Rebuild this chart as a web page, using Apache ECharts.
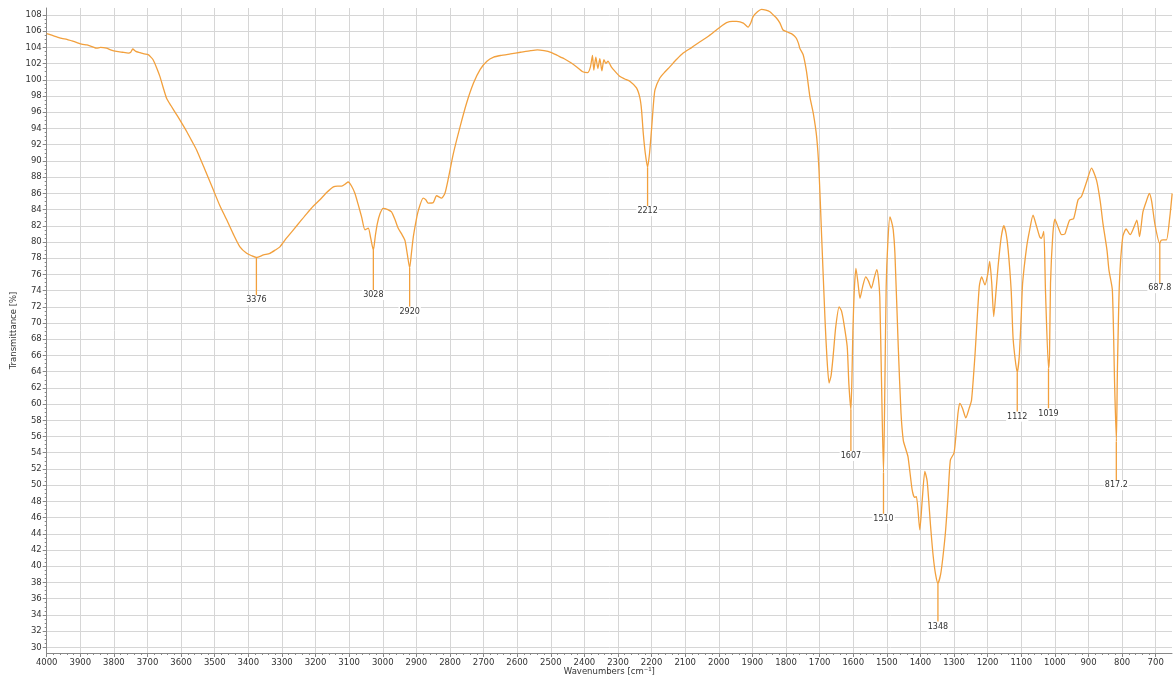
<!DOCTYPE html>
<html>
<head>
<meta charset="utf-8">
<script src="https://cdn.jsdelivr.net/npm/echarts@6/dist/echarts.min.js"></script>
<style>html,body{margin:0;padding:0;background:#fff;}#chart{width:1175px;height:682px;}</style>
</head>
<body>
<div id="chart"></div>
<script>
// Spectrum: wavenumber (cm-1) and transmittance (%)
const wavenumbers = [4000,3985,3970,3955,3940,3925,3910,3896,3880,3865,3851,3840,3822,3810,3792,3775,3757,3750,3744,3735,3722,3710,3698,3690,3683,3673,3663,3653,3643,3630,3615,3603,3583,3570,3554,3530,3504,3485,3464,3445,3425,3405,3390,3376,3355,3336,3320,3306,3286,3266,3246,3226,3207,3187,3167,3147,3135,3122,3110,3103,3093,3083,3073,3063,3053,3043,3036,3028,3022,3016,3008,2999,2985,2974,2964,2954,2944,2934,2927,2920,2915,2909,2900,2894,2880,2872,2865,2850,2840,2825,2815,2805,2790,2770,2750,2730,2710,2690,2670,2650,2620,2590,2560,2540,2520,2500,2480,2460,2440,2420,2405,2390,2382,2376,2372,2366,2360,2354,2348,2342,2336,2330,2320,2310,2294,2280,2264,2245,2235,2230,2225,2219,2212,2206,2200,2195,2190,2176,2160,2146,2126,2106,2080,2056,2030,2007,1990,1977,1960,1947,1927,1913,1905,1898,1885,1873,1860,1848,1838,1828,1818,1809,1796,1784,1775,1769,1763,1759,1749,1739,1729,1719,1709,1702,1694,1684,1678,1672,1666,1660,1652,1642,1635,1628,1618,1613,1607,1604,1601,1597,1592,1586,1580,1572,1563,1555,1546,1538,1530,1525,1521,1516,1510,1506,1502,1497,1491,1486,1481,1476,1466,1458,1451,1444,1437,1425,1418,1412,1402,1395,1387,1380,1370,1362,1355,1348,1340,1333,1325,1318,1311,1300,1293,1288,1283,1275,1265,1255,1248,1238,1225,1218,1208,1200,1194,1188,1182,1175,1169,1160,1152,1145,1139,1130,1124,1112,1106,1100,1096,1084,1075,1065,1055,1045,1040,1033,1028,1019,1016,1013,1006,1000,990,980,970,966,956,944,931,921,905,891,876,865,857,845,839,829,822,817,814,808,798,788,776,765,756,748,738,728,719,712,702,688,684,678,668,658,651];
const transmittance = [105.7,105.5,105.3,105.1,105.0,104.8,104.6,104.4,104.3,104.1,103.9,104.0,103.9,103.7,103.5,103.4,103.3,103.4,103.8,103.5,103.35,103.2,103.1,102.8,102.45,101.5,100.4,99.0,97.7,96.8,95.8,95.0,93.6,92.6,91.35,89.0,86.4,84.5,82.7,81.0,79.4,78.6,78.3,78.1,78.4,78.6,79.0,79.4,80.5,81.5,82.5,83.5,84.4,85.2,86.1,86.8,86.9,86.9,87.2,87.4,86.9,86.0,84.6,83.1,81.5,81.7,80.5,79.0,80.8,82.3,83.5,84.15,84.0,83.7,82.8,81.7,81.0,80.2,78.5,76.8,78.5,80.65,82.8,83.9,85.4,85.2,84.8,84.85,85.7,85.4,86.0,87.8,90.9,94.2,97.2,99.6,101.3,102.3,102.8,103.0,103.2,103.4,103.6,103.7,103.6,103.4,103.0,102.6,102.1,101.5,101.0,100.9,101.6,103.0,101.2,102.8,101.4,102.6,101.1,102.5,102.0,102.3,101.6,101.1,100.4,100.1,99.8,99.0,97.8,96.3,93.5,91.0,89.2,91.0,94.0,96.8,98.75,100.2,101.0,101.6,102.5,103.3,104.0,104.7,105.4,106.15,106.7,107.05,107.2,107.2,107.0,106.5,107.0,107.8,108.4,108.7,108.6,108.4,108.0,107.6,107.0,106.15,105.9,105.7,105.4,105.1,104.5,103.9,103.1,101.0,97.9,95.9,93.0,88.9,80.65,70.4,65.5,62.6,63.5,65.85,69.55,72.0,71.5,70.0,67.1,62.5,59.3,63.0,69.1,74.0,76.75,75.0,73.05,74.5,75.7,75.2,74.3,75.5,76.6,75.5,73.2,63.0,51.5,62.0,74.5,80.0,83.1,82.5,81.5,78.6,67.0,59.0,55.5,54.5,53.5,49.5,48.5,48.6,44.5,48.0,51.7,50.5,45.0,41.2,39.0,37.9,39.0,41.2,44.5,48.6,53.1,54.0,56.8,59.0,60.1,59.5,58.3,59.5,60.5,65.9,74.5,75.7,74.7,76.0,77.6,75.0,70.8,74.0,77.0,80.5,82.0,81.0,79.0,74.0,67.9,63.9,65.9,71.0,74.9,79.4,81.5,83.3,82.0,80.6,80.45,81.3,74.0,64.4,66.0,74.9,81.0,82.8,81.8,80.9,81.0,81.5,82.7,82.9,85.2,85.6,87.5,89.1,87.6,85.0,82.3,79.0,76.5,74.1,62.0,55.4,64.0,74.9,80.65,81.6,80.9,81.8,82.7,80.65,83.7,85.0,86.0,85.0,82.1,79.8,80.2,80.25,80.25,83.1,86.0];

// Peak annotations
const peakWn = [3376, 3028, 2920, 2212, 1607, 1510, 1348, 1112, 1019, 817.2, 687.8];
const peakText = ['3376', '3028', '2920', '2212', '1607', '1510', '1348', '1112', '1019', '817.2', '687.8'];
const peakT = [78.1, 79.0, 76.8, 89.2, 59.3, 51.5, 37.9, 63.9, 64.4, 55.4, 79.8];
const labelT = [72.8, 73.45, 71.4, 83.8, 53.6, 45.85, 32.55, 58.45, 58.85, 50.0, 74.3];

// Tick settings
const xTickMin = 700, xTickMax = 4000, xTickStep = 100;
const yTickMin = 30, yTickMax = 108, yTickStep = 2;

const FONT = 'DejaVu Sans';
const LINE = '#f2a03d';
const GRIDC = '#d6d6d6';

const specData = wavenumbers.map((w, i) => [w, transmittance[i]]);
const annData = peakWn.map((w, i) => [w, peakT[i], labelT[i], i]);

const chart = echarts.init(document.getElementById('chart'), null, {renderer: 'canvas'});
chart.setOption({
  animation: false,
  backgroundColor: '#fff',
  grid: [
    {left: 46.7, right: 19.3, top: 8, bottom: 29},   // x ticks + vertical grid
    {left: 46.7, right: 3, top: 15, bottom: 34.7},   // y ticks + horizontal grid
    {left: 46.7, right: 3, top: 8, bottom: 29}       // data + axis lines
  ],
  xAxis: [
    {type: 'value', gridIndex: 0, min: xTickMin, max: xTickMax, interval: xTickStep, inverse: true,
     axisLine: {show: false},
     axisTick: {show: true, length: 4, lineStyle: {color: '#888'}},
     minorTick: {show: true, splitNumber: 5, length: 2, lineStyle: {color: '#888'}},
     axisLabel: {color: '#333', fontFamily: FONT, fontSize: 8.5, margin: 5,
                 formatter: function (v) { return String(v); }},
     splitLine: {show: true, lineStyle: {color: GRIDC, width: 1}}},
    {type: 'value', gridIndex: 1, min: 0, max: 1, show: false},
    {type: 'value', gridIndex: 2, min: 651.5, max: 4000, inverse: true,
     axisLine: {show: true, lineStyle: {color: '#888'}},
     axisTick: {show: false}, axisLabel: {show: false}, splitLine: {show: false},
     name: 'Wavenumbers [cm⁻¹]', nameLocation: 'middle', nameGap: 14,
     nameTextStyle: {color: '#333', fontFamily: FONT, fontSize: 8.5}}
  ],
  yAxis: [
    {type: 'value', gridIndex: 0, min: 0, max: 1, show: false},
    {type: 'value', gridIndex: 1, min: yTickMin, max: yTickMax, interval: yTickStep,
     axisLine: {show: false},
     axisTick: {show: true, length: 4, lineStyle: {color: '#888'}},
     minorTick: {show: true, splitNumber: 4, length: 2, lineStyle: {color: '#888'}},
     axisLabel: {color: '#333', fontFamily: FONT, fontSize: 8.5, margin: 5},
     splitLine: {show: true, lineStyle: {color: GRIDC, width: 1}}},
    {type: 'value', gridIndex: 2, min: 29.3, max: 108.86,
     axisLine: {show: true, lineStyle: {color: '#888'}},
     axisTick: {show: false}, axisLabel: {show: false}, splitLine: {show: false},
     name: 'Transmittance [%]', nameLocation: 'middle', nameRotate: 90, nameGap: 28,
     nameTextStyle: {color: '#333', fontFamily: FONT, fontSize: 8.5}}
  ],
  series: [
    {type: 'line', xAxisIndex: 2, yAxisIndex: 2, data: specData, showSymbol: false,
     smooth: 0.2, lineStyle: {color: LINE, width: 1.3}, z: 5},
    {type: 'custom', xAxisIndex: 2, yAxisIndex: 2, data: annData, z: 6,
     renderItem: function (params, api) {
       const i = api.value(3);
       const p1 = api.coord([api.value(0), api.value(1)]);
       const p2 = api.coord([api.value(0), api.value(2) + 0.6]);
       const pt = api.coord([api.value(0), api.value(2)]);
       return {type: 'group', children: [
         {type: 'line', shape: {x1: p1[0], y1: p1[1], x2: p2[0], y2: p2[1]},
          style: {stroke: LINE, lineWidth: 1.3}},
         {type: 'text', x: pt[0], y: pt[1],
          style: {text: peakText[i], fill: '#333', fontFamily: FONT, fontSize: 8,
                  align: 'center', verticalAlign: 'middle', backgroundColor: '#fff', padding: [1, 1]}}
       ]};
     }}
  ]
});
</script>
</body>
</html>
